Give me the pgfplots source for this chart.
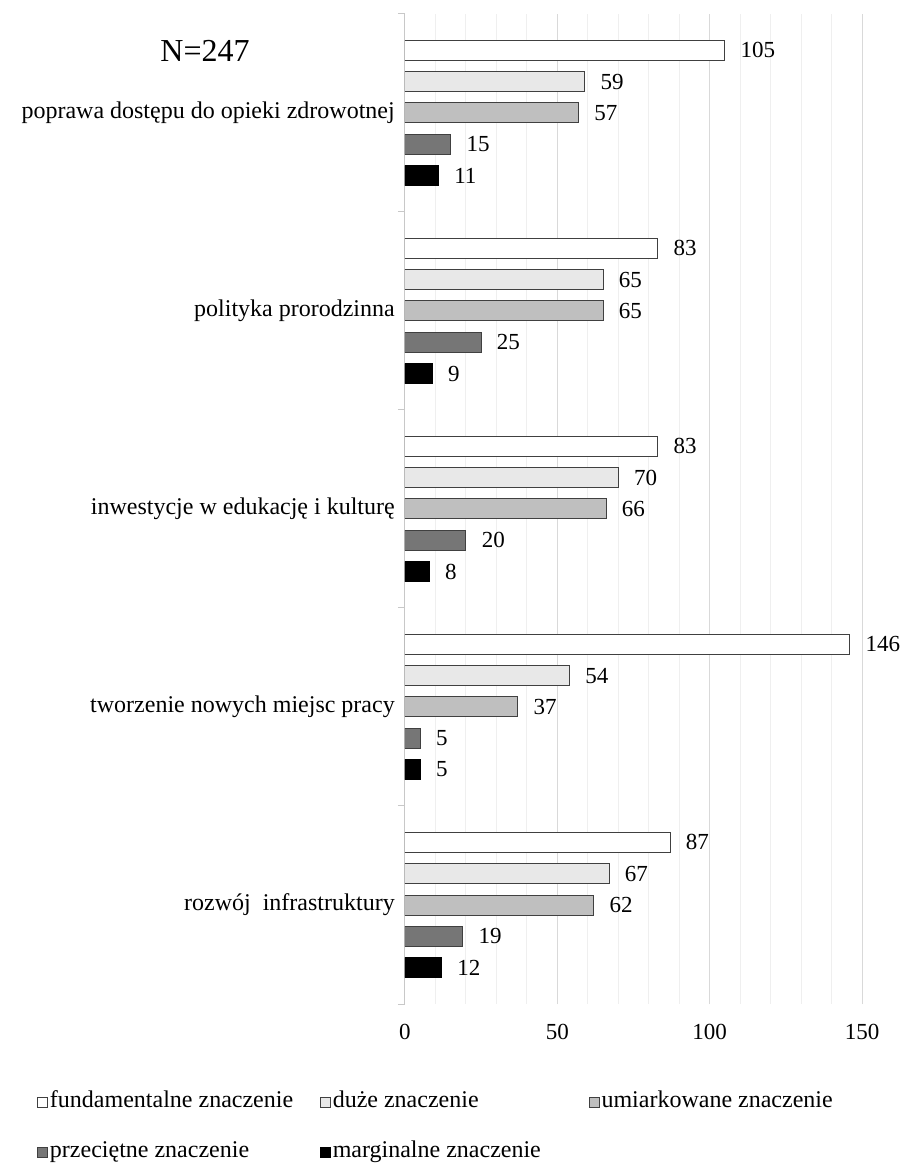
\documentclass[border=0pt]{standalone}
\usepackage{fontspec}
\setmainfont{Liberation Serif}
\usepackage{pgfplots}
\pgfplotsset{compat=1.18}
\definecolor{cLight}{HTML}{E8E8E8}
\definecolor{cMid}{HTML}{BFBFBF}
\definecolor{cDark}{HTML}{767676}
\definecolor{cEdge}{HTML}{404040}
\definecolor{cAxis}{HTML}{C8C8C8}
\definecolor{cGridMaj}{HTML}{D9D9D9}
\definecolor{cGridMin}{HTML}{EFEFEF}
\pgfplotsset{mylegend/.style={legend image code/.code={\draw[##1,line width=0.8pt] (0pt,-8pt) rectangle (10pt,2pt);}}}
\newcommand{\st}{\rule[-8pt]{0pt}{26pt}}
\begin{document}
\begin{tikzpicture}
\useasboundingbox (-405pt,-163pt) rectangle (503pt,1004pt);
\begin{axis}[
  at={(0pt,0pt)}, anchor=south west,
  scale only axis, width=457pt, height=990pt,
  xbar, bar width=0.101,
  xmin=0, xmax=150, ymin=-0.5, ymax=4.5,
  xtick={0,50,100,150}, minor xtick={10,20,...,140},
  ytick={0,1,2,3,4},
  yticklabels={rozwój~ infrastruktury, tworzenie nowych miejsc pracy, inwestycje w edukację i kulturę, polityka prorodzinna, poprawa dostępu do opieki zdrowotnej},
  minor ytick={-0.5,0.5,1.5,2.5,3.5,4.5},
  axis y line*=left, axis x line*=bottom,
  axis line style={-},
  x axis line style={draw=none},
  y axis line style={draw=cAxis, line width=1pt},
  tick align=outside, major tick length=0pt, minor tick length=7pt,
  major x tick style={draw=none}, minor x tick style={draw=none},
  major y tick style={draw=none}, minor y tick style={draw=cAxis, line width=1pt},
  xmajorgrids, xminorgrids,
  major grid style={draw=cGridMaj, line width=1pt},
  minor grid style={draw=cGridMin, line width=1pt},
  /pgf/number format/assume math mode=true,
  yticklabel style={font=\fontsize{24}{29}\selectfont, inner sep=0pt, xshift=-10pt},
  xticklabel style={font=\fontsize{23}{28}\selectfont, yshift=-17pt},
  point meta=x,
  nodes near coords,
  nodes near coords style={font=\fontsize{23}{28}\selectfont, anchor=west, xshift=12pt, text=black},
  legend columns=3,
  legend cell align=left,
  legend style={draw=none, fill=none, at={(axis description cs:-0.8053,-0.0859)}, anchor=north west,
    font=\fontsize{24}{29}\selectfont, inner sep=0pt, nodes={inner sep=0pt}, column sep=0pt, row sep=31pt},
]
\addplot[fill=white, draw=cEdge, line width=1pt, bar shift=0.316, mylegend]
  coordinates {(105,4) (83,3) (83,2) (146,1) (87,0)};
\addlegendentry{\makebox[272pt][l]{\hspace{2pt}fundamentalne znaczenie\st}}
\addplot[fill=cLight, draw=cEdge, line width=1pt, bar shift=0.158, mylegend]
  coordinates {(59,4) (65,3) (70,2) (54,1) (67,0)};
\addlegendentry{\makebox[258pt][l]{\hspace{2pt}duże znaczenie\st}}
\addplot[fill=cMid, draw=cEdge, line width=1pt, bar shift=0, mylegend]
  coordinates {(57,4) (65,3) (66,2) (37,1) (62,0)};
\addlegendentry{\hspace{2pt}umiarkowane znaczenie\st}
\addplot[fill=cDark, draw=cEdge, line width=1pt, bar shift=-0.158, mylegend]
  coordinates {(15,4) (25,3) (20,2) (5,1) (19,0)};
\addlegendentry{\hspace{2pt}przeciętne znaczenie\st}
\addplot[fill=black, draw=black, line width=1pt, bar shift=-0.316, mylegend]
  coordinates {(11,4) (9,3) (8,2) (5,1) (12,0)};
\addlegendentry{\hspace{2pt}marginalne znaczenie\st}
\end{axis}
\node[anchor=base, font=\fontsize{32}{38}\selectfont] at (-200pt,942pt) {N=247};
\end{tikzpicture}
\end{document}
